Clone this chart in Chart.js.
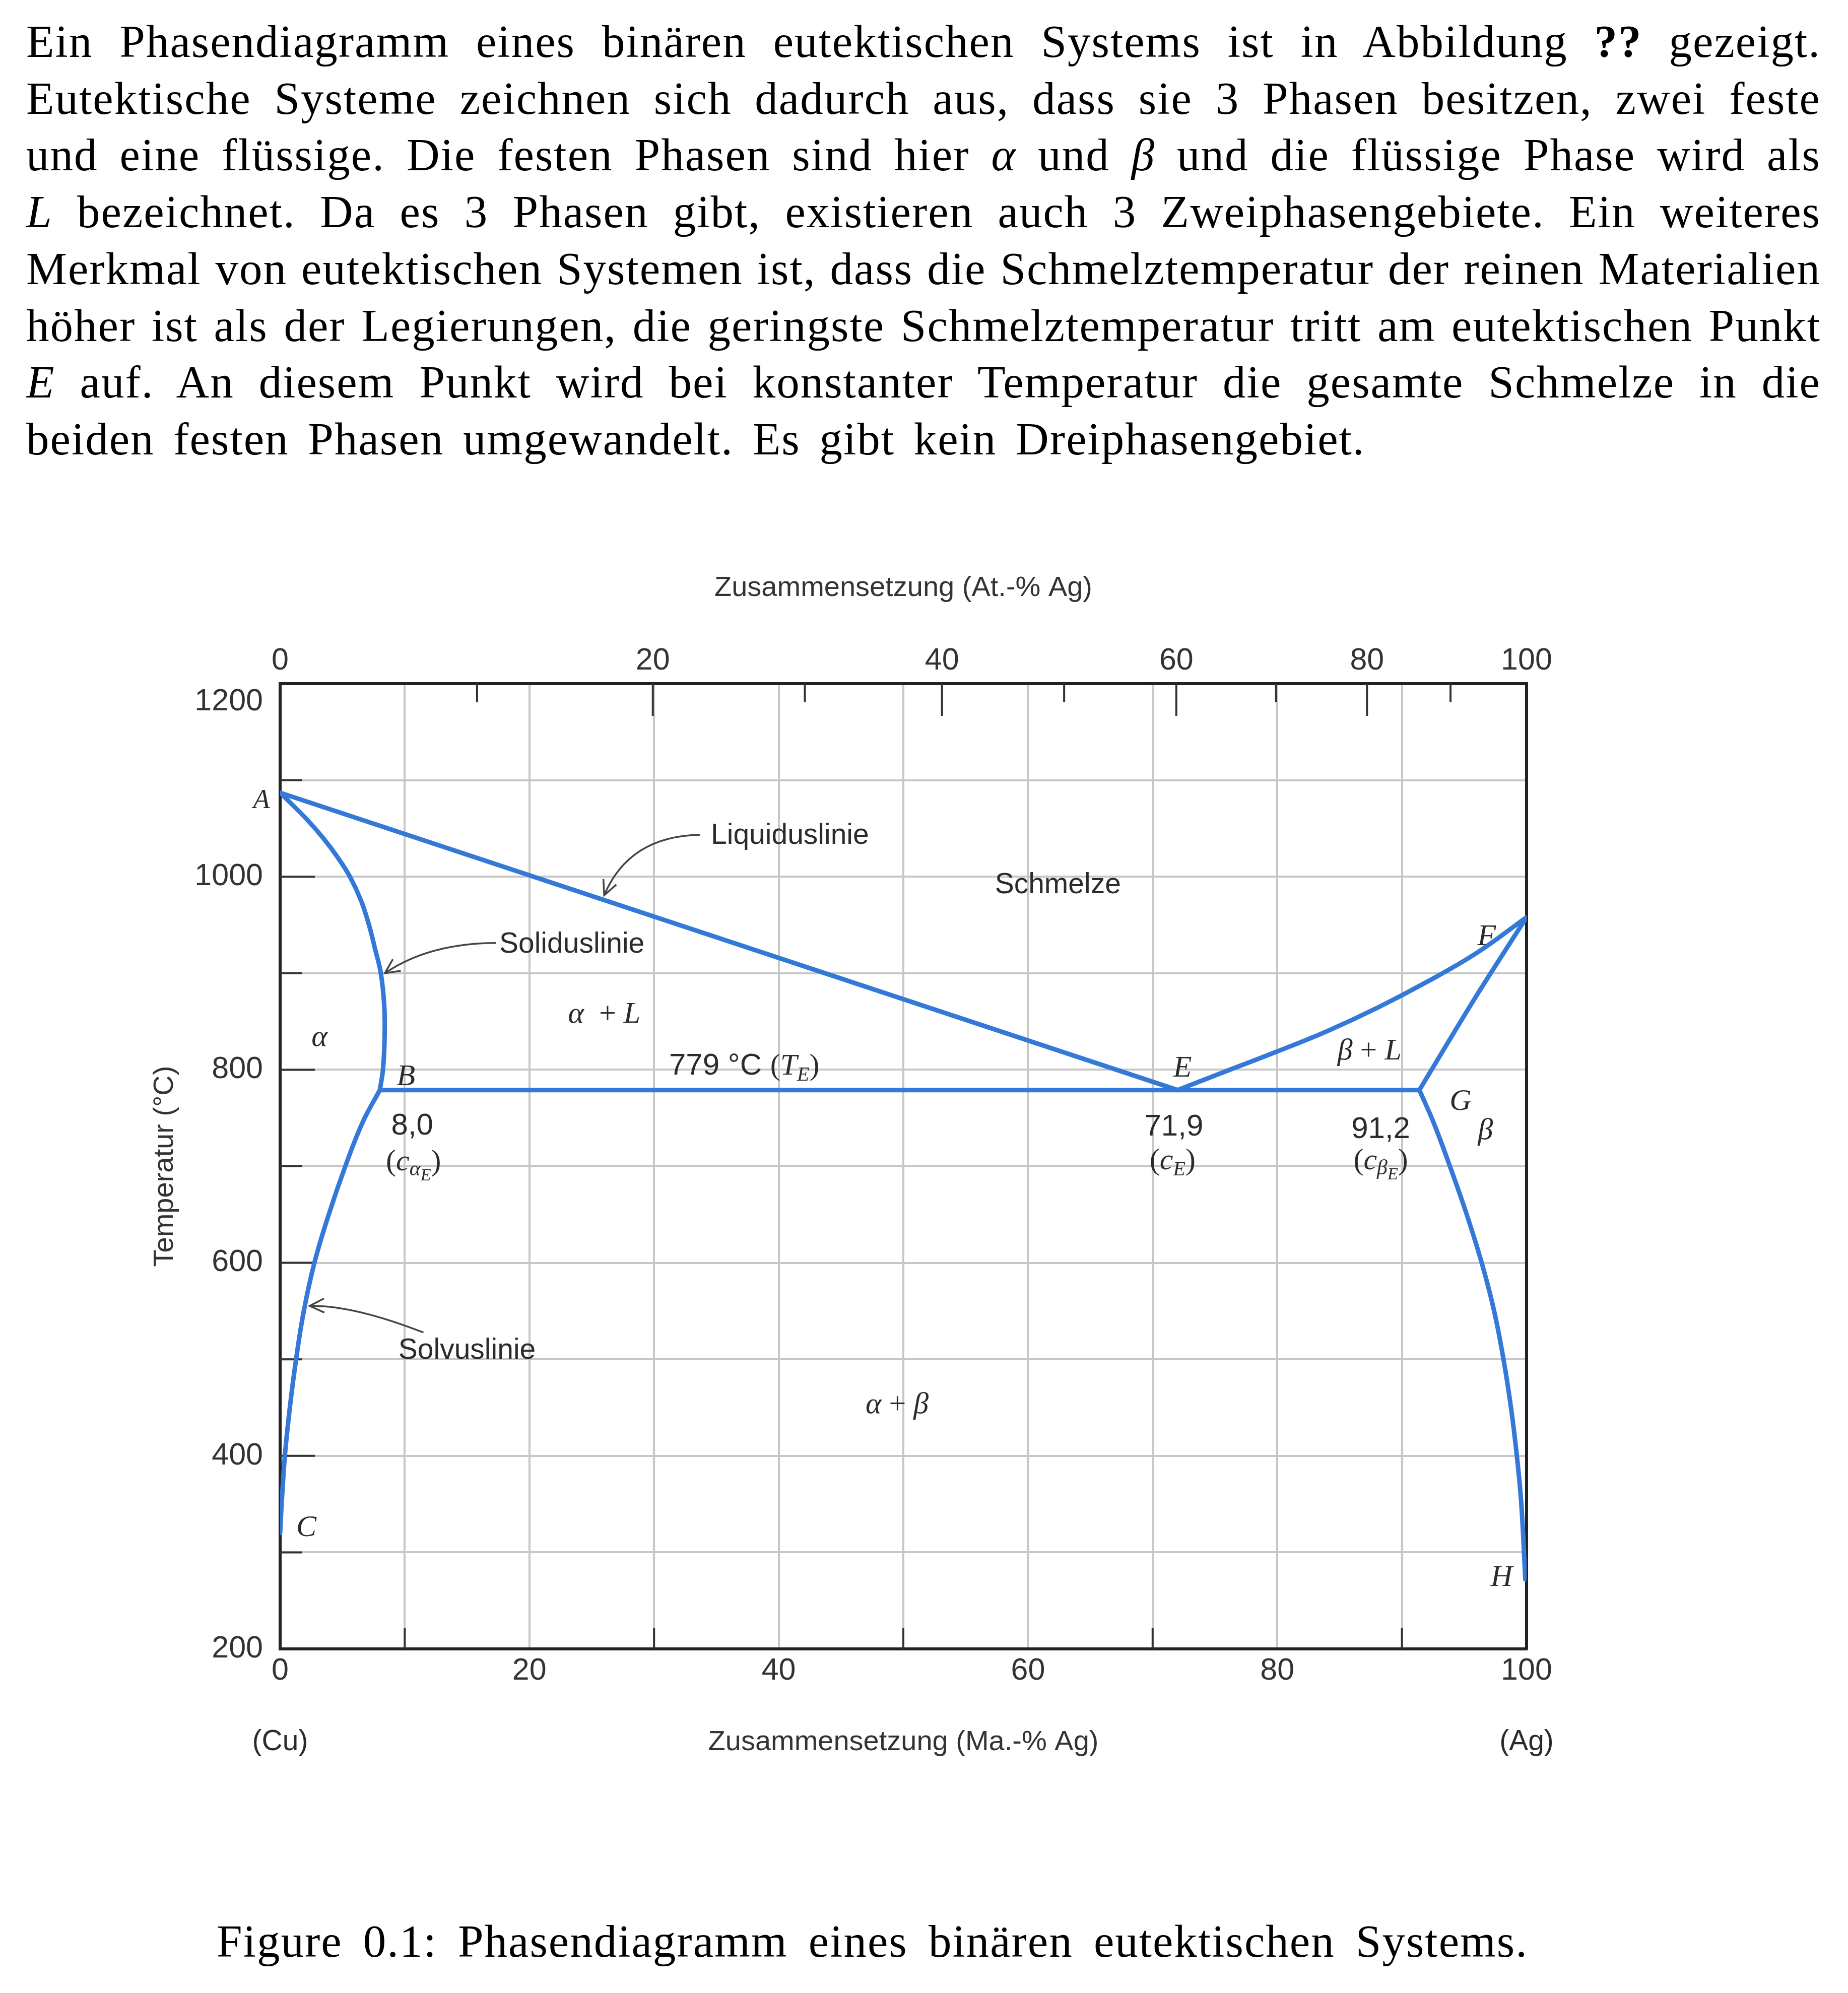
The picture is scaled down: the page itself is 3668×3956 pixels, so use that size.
<!DOCTYPE html>
<html>
<head>
<meta charset="utf-8">
<script src="https://cdn.jsdelivr.net/npm/chart.js@4.4.1/dist/chart.umd.min.js"></script>
<style>
html,body{margin:0;padding:0;background:#fff;width:3668px;height:3956px;overflow:hidden;}
.txt{position:absolute;font-family:"Liberation Serif","Times New Roman",serif;font-size:91px;line-height:112.7px;letter-spacing:2px;color:#000;}
.j{text-align:justify;text-align-last:justify;}
#chart{position:absolute;left:0;top:1100px;}
</style>
</head>
<body>
<div class="txt" style="left:52px;top:27px;width:3562px;">
<div class="j">Ein Phasendiagramm eines binären eutektischen Systems ist in Abbildung <b>??</b> gezeigt.</div>
<div class="j">Eutektische Systeme zeichnen sich dadurch aus, dass sie 3 Phasen besitzen, zwei feste</div>
<div class="j">und eine flüssige. Die festen Phasen sind hier <i>α</i> und <i>β</i> und die flüssige Phase wird als</div>
<div class="j"><i>L</i> bezeichnet. Da es 3 Phasen gibt, existieren auch 3 Zweiphasengebiete. Ein weiteres</div>
<div class="j">Merkmal von eutektischen Systemen ist, dass die Schmelztemperatur der reinen Materialien</div>
<div class="j">höher ist als der Legierungen, die geringste Schmelztemperatur tritt am eutektischen Punkt</div>
<div class="j"><i>E</i> auf. An diesem Punkt wird bei konstanter Temperatur die gesamte Schmelze in die</div>
<div style="word-spacing:13px;">beiden festen Phasen umgewandelt. Es gibt kein Dreiphasengebiet.</div>
</div>
<canvas id="chart" width="3668" height="2500"></canvas>
<div class="txt j" style="left:430px;top:3798px;width:2603px;">Figure 0.1: Phasendiagramm eines binären eutektischen Systems.</div>

<script>
// ---------------- data (Ma.-% Ag, Temperatur °C) ----------------
const liquidusAE = [[0, 1087], [72.0, 779]];
const solidusAB  = [[0, 1087], [2.1, 1060], [3.46, 1040], [4.62, 1020], [5.6, 1000], [6.5, 975], [7.13, 950], [7.62, 925], [8.08, 900], [8.36, 865], [8.38, 832], [8.25, 800], [8.0, 779]];
const solvusBC   = [[8.0, 779], [6.6, 745], [5.23, 700], [3.9, 650], [2.75, 600], [1.9, 550], [1.28, 500], [0.78, 450], [0.38, 400], [0.12, 350], [0, 320]];
const eutectic   = [[8.0, 779], [91.4, 779]];
const liquidusEF = [[72.0, 779], [76, 799], [80, 819], [84, 840], [88, 864], [92, 891], [96, 921], [100, 958]];
const solidusFG  = [[100, 958], [95.8, 873], [91.4, 779]];
const solvusGH   = [[91.4, 779], [92.55, 745], [93.85, 700], [95.2, 650], [96.4, 600], [97.4, 550], [98.15, 500], [98.75, 450], [99.22, 400], [99.58, 350], [99.9, 272]];

// tick labels
const bottomLabels = [0, 20, 40, 60, 80, 100];
const leftLabels   = [200, 400, 600, 800, 1000, 1200];
const topTickPos    = [0, 15.8, 29.9, 42.1, 53.1, 62.9, 71.9, 79.9, 87.2, 93.9, 100];
const topTickLabels = ['0', '', '20', '', '40', '', '60', '', '80', '', '100'];
const bottomMinorTicks = [10, 30, 50, 70, 90];

// ---------------- styling helpers ----------------
const SANS  = '"Liberation Sans", Arial, Helvetica, sans-serif';
const SERIF = '"Liberation Serif", "Times New Roman", serif';
const BLUE = '#3479d8';
const TXT = '#2b2b2b';
const sans = (t, s = 57, dy = 0) => ({t, font: s + 'px ' + SANS, dy});
const ital = (t, s = 60, dy = 0) => ({t, font: 'italic ' + s + 'px ' + SERIF, dy});
const rom  = (t, s = 60, dy = 0) => ({t, font: s + 'px ' + SERIF, dy});

// annotations in data coordinates
const textLabels = [
  {x: 62.4, y: 983,  r: [sans('Schmelze')]},
  {x: 26.0, y: 849,  r: [ital('α'), rom('  + '), ital('L')]},
  {x: 87.4, y: 810.5, r: [ital('β'), rom(' + '), ital('L')]},
  {x: 49.5, y: 444,  r: [ital('α'), rom(' + '), ital('β')]},
  {x: 3.15, y: 825,  r: [ital('α')]},
  {x: 96.7, y: 728,  r: [ital('β')]},
  {x: -1.5, y: 1071, r: [ital('A', 54)]},
  {x: 10.1, y: 784,  r: [ital('B')]},
  {x: 2.1,  y: 317,  r: [ital('C')]},
  {x: 72.4, y: 793,  r: [ital('E')]},
  {x: 96.8, y: 929,  r: [ital('F')]},
  {x: 94.7, y: 758.6, r: [ital('G')]},
  {x: 98.0, y: 265,  r: [ital('H')]},
  {x: 10.6, y: 733,  r: [sans('8,0', 60)]},
  {x: 10.7, y: 696,  r: [rom('('), ital('c'), ital('α', 42, 10), ital('E', 34, 20), rom(')')]},
  {x: 71.7, y: 732,  r: [sans('71,9', 60)]},
  {x: 71.6, y: 697,  r: [rom('('), ital('c'), ital('E', 40, 12), rom(')')]},
  {x: 88.3, y: 729,  r: [sans('91,2', 60)]},
  {x: 88.3, y: 697,  r: [rom('('), ital('c'), ital('β', 42, 10), ital('E', 34, 20), rom(')')]},
  {x: 31.2, y: 795,  a: 'left', r: [sans('779 °C ', 60), rom('('), ital('T'), ital('E', 40, 12), rom(')')]}
];
const arrowNotes = [
  {text: 'Liquiduslinie', tx: 34.56, ty: 1034,  from: [33.7, 1043.4], ctrl: [28.0, 1042],  to: [26.0, 980.8]},
  {text: 'Soliduslinie',  tx: 17.58, ty: 921.4, from: [17.3, 931.4],  ctrl: [11.9, 931],   to: [8.4, 900]},
  {text: 'Solvuslinie',   tx: 9.49,  ty: 500.6, from: [11.5, 527.8],  ctrl: [5.8, 556.5],  to: [2.37, 555.3]}
];

function drawRuns(ctx, runs, x, y, align) {
  let w = 0;
  runs.forEach(r => { ctx.font = r.font; r.w = ctx.measureText(r.t).width; w += r.w; });
  let cx = align === 'left' ? x : x - w / 2;
  ctx.textAlign = 'left';
  ctx.textBaseline = 'alphabetic';
  runs.forEach(r => { ctx.font = r.font; ctx.fillText(r.t, cx, y + (r.dy || 0)); cx += r.w; });
}

const inwardTicks = {
  id: 'inwardTicks',
  beforeDatasetsDraw(chart) {
    const {ctx, chartArea: ca, scales} = chart;
    ctx.save();
    ctx.strokeStyle = '#333';
    ctx.lineWidth = 4;
    ctx.beginPath();
    for (let t = 300; t < 1200; t += 100) {
      const py = scales.y.getPixelForValue(t);
      const len = leftLabels.includes(t) ? 69 : 44;
      ctx.moveTo(ca.left, py); ctx.lineTo(ca.left + len, py);
    }
    topTickPos.forEach((v, i) => {
      if (v <= 0 || v >= 100) return;
      const px = scales.x2.getPixelForValue(v);
      const len = topTickLabels[i] ? 64 : 37;
      ctx.moveTo(px, ca.top); ctx.lineTo(px, ca.top + len);
    });
    bottomMinorTicks.forEach(v => {
      const px = scales.x.getPixelForValue(v);
      ctx.moveTo(px, ca.bottom); ctx.lineTo(px, ca.bottom - 41);
    });
    ctx.stroke();
    ctx.restore();
  }
};

const annotate = {
  id: 'annotate',
  afterDatasetsDraw(chart) {
    const {ctx, scales} = chart;
    const X = v => scales.x.getPixelForValue(v);
    const Y = v => scales.y.getPixelForValue(v);
    ctx.save();
    ctx.fillStyle = TXT;
    textLabels.forEach(l => drawRuns(ctx, l.r, X(l.x), Y(l.y), l.a || 'center'));
    // Cu / Ag end labels under the axis
    ctx.font = '57px ' + SANS;
    ctx.textAlign = 'center';
    ctx.textBaseline = 'middle';
    ctx.fillText('(Cu)', X(0), chart.chartArea.bottom + 185);
    ctx.fillText('(Ag)', X(100), chart.chartArea.bottom + 185);
    // arrows
    arrowNotes.forEach(a => {
      drawRuns(ctx, [sans(a.text)], X(a.tx), Y(a.ty), 'left');
      const p0 = [X(a.from[0]), Y(a.from[1])];
      const pc = [X(a.ctrl[0]), Y(a.ctrl[1])];
      const p1 = [X(a.to[0]), Y(a.to[1])];
      ctx.strokeStyle = '#444';
      ctx.lineWidth = 3.5;
      ctx.beginPath();
      ctx.moveTo(p0[0], p0[1]);
      ctx.quadraticCurveTo(pc[0], pc[1], p1[0], p1[1]);
      ctx.stroke();
      const dx = p1[0] - pc[0], dy = p1[1] - pc[1];
      const ang = Math.atan2(dy, dx);
      const L = 32, sp = 0.45;
      ctx.beginPath();
      ctx.moveTo(p1[0] - L * Math.cos(ang - sp), p1[1] - L * Math.sin(ang - sp));
      ctx.lineTo(p1[0], p1[1]);
      ctx.lineTo(p1[0] - L * Math.cos(ang + sp), p1[1] - L * Math.sin(ang + sp));
      ctx.stroke();
    });
    ctx.restore();
  }
};

const toXY = arr => arr.map(p => ({x: p[0], y: p[1]}));
const mk = (data, tension) => ({
  data: toXY(data), showLine: true, borderColor: BLUE, borderWidth: 9,
  pointRadius: 0, tension: tension, fill: false,
  borderCapStyle: 'round', borderJoinStyle: 'round'
});

const gridColor = '#c7c7c7';
const tickFont = {family: SANS, size: 61};
const titleFont = {family: SANS, size: 56};

new Chart(document.getElementById('chart'), {
  type: 'scatter',
  data: {
    datasets: [
      mk(liquidusAE, 0),
      mk(solidusAB, 0.4),
      mk(solvusBC, 0.4),
      mk(eutectic, 0),
      mk(liquidusEF, 0.4),
      mk(solidusFG, 0.3),
      mk(solvusGH, 0.4)
    ]
  },
  options: {
    responsive: false,
    animation: false,
    devicePixelRatio: 1,
    layout: {padding: {left: 0, right: 578, top: 0, bottom: 0}},
    plugins: {legend: {display: false}, tooltip: {enabled: false}},
    scales: {
      x: {
        type: 'linear', position: 'bottom', min: 0, max: 100,
        ticks: {stepSize: 10, autoSkip: false, maxRotation: 0, padding: 8, color: '#333', font: tickFont,
                callback: v => bottomLabels.includes(v) ? String(v) : ''},
        grid: {color: gridColor, lineWidth: 4, drawTicks: false},
        border: {display: true, color: '#222', width: 6},
        title: {display: true, text: 'Zusammensetzung (Ma.-% Ag)', color: '#333', font: titleFont, padding: {top: 0, bottom: 108}},
        afterFit: s => { s.height = 327; }
      },
      x2: {
        type: 'linear', position: 'top', min: 0, max: 100,
        afterBuildTicks: s => { s.ticks = topTickPos.map(v => ({value: v})); },
        ticks: {autoSkip: false, maxRotation: 0, padding: 8, color: '#333', font: tickFont,
                callback: (v, i) => topTickLabels[i]},
        grid: {display: false, drawOnChartArea: false, drawTicks: false},
        border: {display: true, color: '#222', width: 6},
        title: {display: true, text: 'Zusammensetzung (At.-% Ag)', color: '#333', font: titleFont, padding: {top: 34, bottom: 0}},
        afterFit: s => { s.height = 257; }
      },
      y: {
        type: 'linear', position: 'left', min: 200, max: 1200,
        ticks: {stepSize: 100, autoSkip: false, padding: 34, color: '#333', font: tickFont,
                callback: v => v === 1200 ? ['', '1200'] : (leftLabels.includes(v) ? String(v) : '')},
        grid: {color: gridColor, lineWidth: 4, drawTicks: false},
        border: {display: true, color: '#222', width: 6},
        title: {display: true, text: 'Temperatur (°C)', color: '#333', font: titleFont, padding: {top: 294, bottom: 0}},
        afterFit: s => { s.width = 556; }
      },
      y2: {
        type: 'linear', position: 'right', min: 200, max: 1200,
        ticks: {display: false},
        grid: {display: false, drawOnChartArea: false, drawTicks: false},
        border: {display: true, color: '#222', width: 6},
        afterFit: s => { s.width = 60; }
      }
    }
  },
  plugins: [inwardTicks, annotate]
});
</script>
</body>
</html>
